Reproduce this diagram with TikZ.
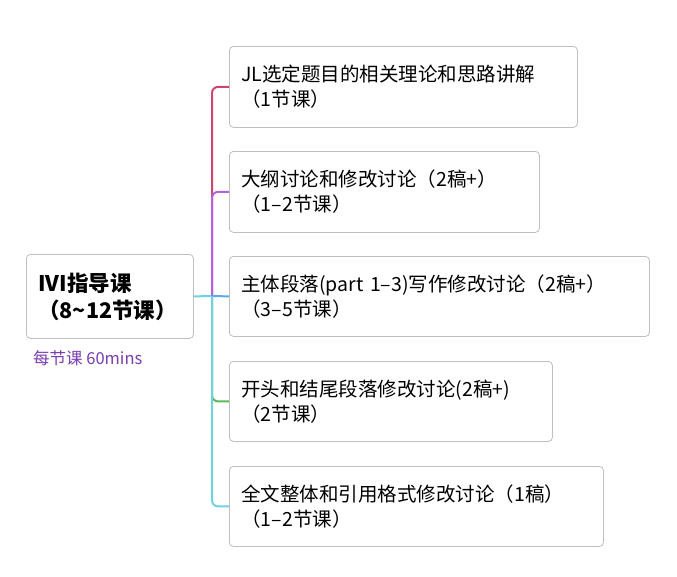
\documentclass[tikz,border=0pt]{standalone}
\usepackage{fontspec}
\setmainfont{Noto Sans CJK SC}
\usetikzlibrary{positioning}
\definecolor{lnred}{HTML}{D0456E}
\definecolor{lnpurple}{HTML}{B461E0}
\definecolor{lnblue}{HTML}{5BA8F0}
\definecolor{lngreen}{HTML}{5CB85C}
\definecolor{lncyan}{HTML}{6DD3E0}
\definecolor{notepurple}{HTML}{7A3DB0}
\tikzset{
  topic/.style={draw=black!25, rounded corners=4pt, line width=0.8pt, fill=white,
    align=left, anchor=north west, inner sep=0pt, font=\fontsize{19.5}{25}\selectfont},
  branch/.style={line width=2pt, rounded corners=6pt}
}
\begin{document}
\begin{tikzpicture}[x=1pt,y=-1pt]
\useasboundingbox (0,0) rectangle (677,576);
\node[topic, minimum width=167pt, minimum height=84pt, text width=149pt,
  font=\bfseries\fontsize{21.5}{27}\selectfont] (root) at (26,254)
  {\hspace*{3pt}IVI指导课\\\hspace*{3pt}（8\textasciitilde12节课）};
\node[anchor=west, text=notepurple, font=\fontsize{16.5}{18}\selectfont, inner sep=0pt] (note)
  at (33,358) {每节课 60mins};
\node[topic, minimum width=348pt, minimum height=81pt, text width=330pt] (t1) at (229,46)
  {\hspace*{3pt}JL选定题目的相关理论和思路讲解\\\hspace*{3pt}（1节课）};
\node[topic, minimum width=310pt, minimum height=81pt, text width=292pt] (t2) at (229,151)
  {\hspace*{3pt}大纲讨论和修改讨论（2稿+）\\\hspace*{3pt}（1–2节课）};
\node[topic, minimum width=420pt, minimum height=80pt, text width=402pt] (t3) at (229,256)
  {\hspace*{3pt}主体段落(part 1–3)写作修改讨论（2稿+）\\\hspace*{3pt}（3–5节课）};
\node[topic, minimum width=323pt, minimum height=80pt, text width=305pt] (t4) at (229,361)
  {\hspace*{3pt}开头和结尾段落修改讨论(2稿+)\\\hspace*{3pt}（2节课）};
\node[topic, minimum width=374pt, minimum height=80pt, text width=356pt] (t5) at (229,466)
  {\hspace*{3pt}全文整体和引用格式修改讨论（1稿）\\\hspace*{3pt}（1–2节课）};
\coordinate (hub) at (212,296);
\draw[branch, lncyan] (root.east) -- (hub);
\draw[branch, lnred] (hub) |- (t1.west);
\draw[branch, lnpurple] (hub) |- (t2.west);
\draw[branch, lnblue] (hub) -- (t3.west);
\draw[branch, lngreen] (hub) |- (t4.west);
\draw[branch, lncyan] (hub) |- (t5.west);
\end{tikzpicture}
\end{document}
